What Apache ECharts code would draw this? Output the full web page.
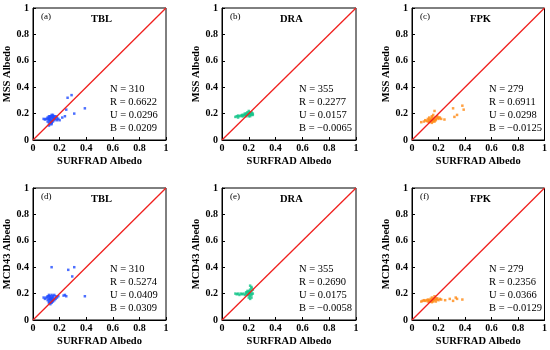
<!DOCTYPE html>
<html>
<head>
<meta charset="utf-8">
<script src="https://cdn.jsdelivr.net/npm/echarts@6/dist/echarts.min.js"></script>
<style>html,body{margin:0;padding:0;background:#fff}#c{width:550px;height:350px}</style>
</head>
<body>
<div id="c"></div>
<script>
// ---- data ----
const panelLabels = ['(a)', '(b)', '(c)', '(d)', '(e)', '(f)'];
const sites = ['TBL', 'DRA', 'FPK', 'TBL', 'DRA', 'FPK'];
const yNames = ['MSS Albedo', 'MSS Albedo', 'MSS Albedo', 'MCD43 Albedo', 'MCD43 Albedo', 'MCD43 Albedo'];
const xName = 'SURFRAD Albedo';
const statN = ['310', '355', '279', '310', '355', '279'];
const statR = ['0.6622', '0.2277', '0.6911', '0.5274', '0.2690', '0.2356'];
const statU = ['0.0296', '0.0157', '0.0298', '0.0409', '0.0175', '0.0366'];
const statB = ['0.0209', '−0.0065', '−0.0125', '0.0309', '−0.0058', '−0.0129'];
const tickValues = [0, 0.2, 0.4, 0.6, 0.8, 1];
const diagLine = [[0, 0], [1, 1]];

const mssTBL = [[0.10,0.16],[0.08,0.16],[0.09,0.155],[0.11,0.16],[0.12,0.17],[0.13,0.18],[0.14,0.19],[0.15,0.18],[0.16,0.17],[0.17,0.16],[0.12,0.15],[0.13,0.14],[0.14,0.15],[0.15,0.16],[0.13,0.16],[0.14,0.17],[0.12,0.13],[0.13,0.12],[0.14,0.13],[0.15,0.14],[0.16,0.15],[0.11,0.14],[0.12,0.18],[0.15,0.19],[0.16,0.18],[0.17,0.18],[0.18,0.17],[0.14,0.14],[0.13,0.17],[0.12,0.16],[0.15,0.17],[0.16,0.16],[0.11,0.17],[0.14,0.18],[0.13,0.15],[0.14,0.12],[0.18,0.15],[0.19,0.16],[0.20,0.15],[0.12,0.11],[0.24,0.18],[0.25,0.23],[0.26,0.32],[0.29,0.34],[0.31,0.20],[0.39,0.24],[0.22,0.17]];
const mssDRA = [[0.10,0.175],[0.11,0.18],[0.12,0.17],[0.13,0.18],[0.14,0.185],[0.15,0.18],[0.16,0.19],[0.17,0.19],[0.18,0.2],[0.19,0.21],[0.20,0.2],[0.21,0.21],[0.22,0.2],[0.23,0.19],[0.19,0.19],[0.20,0.18],[0.21,0.19],[0.22,0.21],[0.18,0.18],[0.17,0.2],[0.20,0.22],[0.21,0.2],[0.19,0.2],[0.22,0.19],[0.20,0.19],[0.18,0.19],[0.21,0.18],[0.23,0.2],[0.15,0.19],[0.12,0.185],[0.16,0.18]];
const mssFPK = [[0.07,0.135],[0.09,0.14],[0.10,0.15],[0.11,0.145],[0.12,0.16],[0.13,0.15],[0.14,0.14],[0.15,0.13],[0.16,0.14],[0.17,0.15],[0.18,0.16],[0.19,0.17],[0.20,0.16],[0.21,0.17],[0.13,0.17],[0.14,0.16],[0.15,0.17],[0.16,0.16],[0.15,0.15],[0.14,0.15],[0.16,0.15],[0.17,0.14],[0.18,0.15],[0.12,0.14],[0.15,0.18],[0.16,0.19],[0.17,0.22],[0.19,0.18],[0.20,0.17],[0.22,0.16],[0.245,0.155],[0.31,0.24],[0.32,0.175],[0.34,0.19],[0.38,0.26],[0.39,0.23],[0.17,0.17],[0.13,0.135]];
const mcdTBL = [[0.08,0.17],[0.09,0.16],[0.10,0.17],[0.11,0.18],[0.12,0.19],[0.13,0.18],[0.14,0.19],[0.15,0.18],[0.16,0.19],[0.17,0.18],[0.18,0.17],[0.12,0.16],[0.13,0.15],[0.14,0.16],[0.15,0.17],[0.16,0.16],[0.11,0.15],[0.12,0.14],[0.13,0.13],[0.14,0.14],[0.15,0.15],[0.13,0.17],[0.14,0.17],[0.12,0.13],[0.13,0.12],[0.14,0.13],[0.15,0.14],[0.16,0.15],[0.17,0.16],[0.11,0.17],[0.19,0.18],[0.13,0.16],[0.14,0.15],[0.12,0.18],[0.14,0.40],[0.265,0.38],[0.31,0.40],[0.295,0.33],[0.39,0.18],[0.24,0.19],[0.25,0.18],[0.23,0.185]];
const mcdDRA = [[0.10,0.2],[0.11,0.195],[0.12,0.2],[0.13,0.19],[0.14,0.2],[0.15,0.195],[0.16,0.2],[0.17,0.19],[0.18,0.2],[0.19,0.21],[0.20,0.22],[0.21,0.23],[0.22,0.25],[0.21,0.26],[0.22,0.24],[0.20,0.19],[0.21,0.18],[0.22,0.17],[0.20,0.17],[0.22,0.2],[0.21,0.21],[0.19,0.19],[0.20,0.2],[0.22,0.22],[0.21,0.2],[0.20,0.21],[0.19,0.22],[0.22,0.19],[0.21,0.16],[0.23,0.2],[0.18,0.21],[0.23,0.23]];
const mcdFPK = [[0.07,0.14],[0.08,0.145],[0.09,0.15],[0.10,0.145],[0.11,0.15],[0.12,0.155],[0.13,0.15],[0.14,0.14],[0.15,0.135],[0.16,0.14],[0.17,0.15],[0.18,0.16],[0.19,0.155],[0.20,0.15],[0.21,0.16],[0.14,0.16],[0.15,0.17],[0.16,0.16],[0.17,0.165],[0.15,0.15],[0.16,0.15],[0.13,0.14],[0.17,0.18],[0.18,0.14],[0.22,0.155],[0.25,0.15],[0.285,0.16],[0.31,0.145],[0.33,0.17],[0.34,0.16],[0.38,0.155],[0.12,0.14],[0.19,0.165]];

const panelData = [mssTBL, mssDRA, mssFPK, mcdTBL, mcdDRA, mcdFPK];
const colors = ['#1f4bff', '#12c488', '#ff8a14', '#1f4bff', '#12c488', '#ff8a14'];

// ---- layout ----
const lefts = [33, 222, 412];
const tops = [8, 188];
const W = 133, H = 132;
const serif = '"Liberation Serif", "Times New Roman", serif';

const grids = [], xAxes = [], yAxes = [], series = [], graphics = [];
for (let i = 0; i < 6; i++) {
  const col = i % 3, row = Math.floor(i / 3);
  const L = lefts[col], T = tops[row];
  grids.push({ left: L, top: T, width: W + (col === 1 ? 1 : 0), height: H, show: true, borderColor: '#000', borderWidth: 1, backgroundColor: 'transparent' });
  xAxes.push({
    gridIndex: i, type: 'value', min: 0, max: 1, interval: 0.2,
    name: xName, nameLocation: 'middle', nameGap: 16,
    nameTextStyle: { fontFamily: serif, fontWeight: 'bold', fontSize: 10.5, color: '#000' },
    axisLine: { lineStyle: { color: '#000', width: 1 } },
    axisTick: { inside: true, length: 3, lineStyle: { color: '#000' } },
    axisLabel: { margin: 3, fontFamily: serif, fontWeight: 'bold', fontSize: 10, color: '#000',
      formatter: v => (v === 0 || v === 1) ? String(v) : v.toFixed(1) },
    splitLine: { show: false }
  });
  yAxes.push({
    gridIndex: i, type: 'value', min: 0, max: 1, interval: 0.2,
    name: yNames[i], nameLocation: 'middle', nameGap: 13,
    nameTextStyle: { fontFamily: serif, fontWeight: 'bold', fontSize: 10.5, color: '#000' },
    axisLine: { lineStyle: { color: '#000', width: 1 } },
    axisTick: { inside: true, length: 3, lineStyle: { color: '#000' } },
    axisLabel: { margin: 4, fontFamily: serif, fontWeight: 'bold', fontSize: 10, color: '#000',
      formatter: v => (v === 0 || v === 1) ? String(v) : v.toFixed(1) },
    splitLine: { show: false }
  });
  series.push({
    type: 'scatter', xAxisIndex: i, yAxisIndex: i, data: panelData[i],
    symbol: 'rect', symbolSize: 2.5, itemStyle: { color: colors[i] }, silent: true, z: 2
  });
  series.push({
    type: 'line', xAxisIndex: i, yAxisIndex: i, data: diagLine,
    symbol: 'none', lineStyle: { color: '#f0201e', width: 1.3 }, silent: true, z: 3
  });
  graphics.push({ type: 'text', left: L + 8, top: T + 4,
    style: { text: panelLabels[i], font: '9px ' + serif, fill: '#000' } });
  graphics.push({ type: 'text', left: L + 58, top: T + 6,
    style: { text: sites[i], font: 'bold 10.5px ' + serif, fill: '#000' } });
  const lines = ['N = ' + statN[i], 'R = ' + statR[i], 'U = ' + statU[i], 'B = ' + statB[i]];
  lines.forEach((s, k) => {
    graphics.push({ type: 'text', left: L + 77, top: T + 76 + k * 13,
      style: { text: s, font: '10.5px ' + serif, fill: '#000' } });
  });
}

const chart = echarts.init(document.getElementById('c'), null, { renderer: 'canvas' });
chart.setOption({
  animation: false,
  backgroundColor: '#fff',
  grid: grids, xAxis: xAxes, yAxis: yAxes, series: series, graphic: graphics
});
</script>
</body>
</html>
